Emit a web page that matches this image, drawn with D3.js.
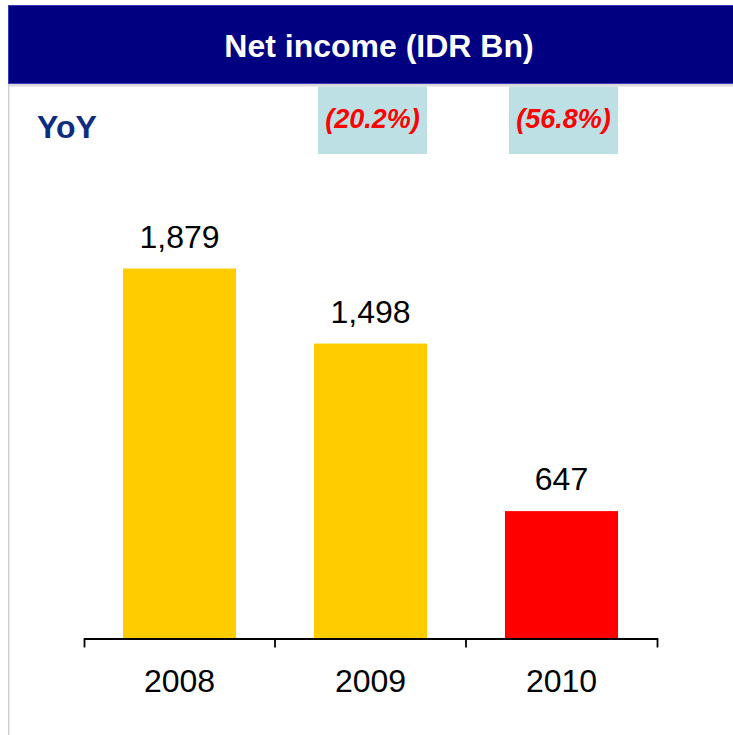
<!DOCTYPE html>
<html>
<head>
<meta charset="utf-8">
<script src="https://cdn.jsdelivr.net/npm/d3@7"></script>
<style>
  body { margin: 0; background: #fff; }
  svg text { font-family: "Liberation Sans", Arial, sans-serif; }
</style>
</head>
<body>
<div id="chart"></div>
<script>
// chart data
var years = ["2008", "2009", "2010"],
    netIncome = [1879, 1498, 647],
    yoyLabels = ["", "(20.2%)", "(56.8%)"],
    highlightYear = "2010";

var width = 733,
    height = 735;

var svg = d3.select("#chart")
    .append("svg")
    .attr("width", width)
    .attr("height", height);

// header band
svg.append("rect")
    .attr("x", 8.5).attr("y", 5.5)
    .attr("width", width).attr("height", 78)
    .attr("fill", "#000080")
    .attr("stroke", "#3a3ab8")
    .attr("stroke-width", 1);

svg.append("rect")
    .attr("x", 8).attr("y", 84)
    .attr("width", width).attr("height", 2.5)
    .attr("fill", "#d9d9d9");

// left frame line
svg.append("rect")
    .attr("x", 8).attr("y", 84)
    .attr("width", 1.5).attr("height", height - 84)
    .attr("fill", "#cfcfcf");

svg.append("text")
    .attr("x", 379).attr("y", 57)
    .attr("text-anchor", "middle")
    .attr("fill", "#fff")
    .style("font-size", "32px")
    .style("font-weight", "bold")
    .text("Net income (IDR Bn)");

// scales
var x = d3.scaleBand()
    .domain(years)
    .range([84, 657])
    .paddingInner(0.408)
    .paddingOuter(0.204);

var y = d3.scaleLinear()
    .domain([0, 2000])
    .range([638.5, 244.7]);

var data = years.map(function(d, i) {
    return {year: d, val: netIncome[i], yoy: yoyLabels[i]};
});

// YoY row
svg.append("text")
    .attr("x", 37).attr("y", 138)
    .attr("fill", "#0e2d80")
    .style("font-size", "32px")
    .style("font-weight", "bold")
    .text("YoY");

var yoyG = svg.append("g").selectAll("g")
    .data(data.filter(function(d) { return d.yoy; }))
    .join("g");

yoyG.append("rect")
    .attr("x", d => x(d.year) + 4)
    .attr("y", 86.5)
    .attr("width", x.bandwidth() - 4)
    .attr("height", 67.5)
    .attr("fill", "#bde0e4");

yoyG.append("text")
    .attr("x", d => x(d.year) + x.bandwidth() / 2 + 2)
    .attr("y", 128)
    .attr("text-anchor", "middle")
    .attr("fill", "#ff0000")
    .style("font-size", "27px")
    .style("font-weight", "bold")
    .style("font-style", "italic")
    .text(d => d.yoy);

// bars
svg.append("g").selectAll("rect")
    .data(data)
    .join("rect")
    .attr("x", d => x(d.year))
    .attr("y", d => y(d.val))
    .attr("width", x.bandwidth())
    .attr("height", d => y(0) - y(d.val))
    .attr("fill", d => d.year == highlightYear ? "#ff0000" : "#ffcc00");

// value labels
svg.append("g").selectAll("text")
    .data(data)
    .join("text")
    .attr("x", d => x(d.year) + x.bandwidth() / 2)
    .attr("y", d => y(d.val) - 21)
    .attr("text-anchor", "middle")
    .attr("fill", "#000")
    .style("font-size", "32px")
    .text(d => d3.format(",")(d.val));

// x axis, ticks between categories
var xAxis = svg.append("g")
    .attr("transform", "translate(0," + y(0) + ")")
    .call(d3.axisBottom(x).tickSize(0).tickSizeOuter(9).tickPadding(31));

xAxis.select(".domain")
    .attr("stroke", "#000")
    .attr("stroke-width", 1.8);

xAxis.selectAll(".tick text")
    .attr("fill", "#000")
    .style("font-size", "32px")
    .style("font-family", "'Liberation Sans', Arial, sans-serif");

var step = x.step();
xAxis.selectAll(".divider")
    .data(years.slice(1))
    .join("line")
    .attr("class", "divider")
    .attr("x1", d => x(d) - step * x.paddingInner() / 2)
    .attr("x2", d => x(d) - step * x.paddingInner() / 2)
    .attr("y1", 0).attr("y2", 9)
    .attr("stroke", "#000")
    .attr("stroke-width", 1.8);
</script>
</body>
</html>
